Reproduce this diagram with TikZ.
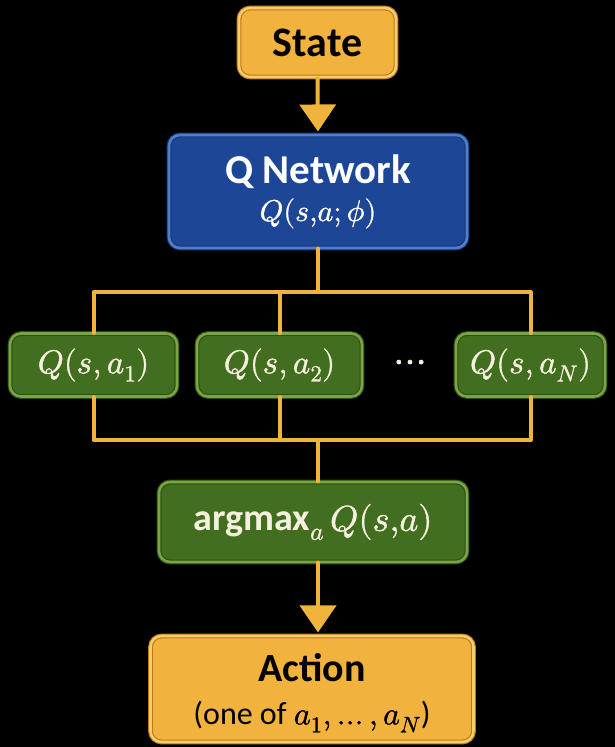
\documentclass[tikz,border=0pt]{standalone}
\usepackage{fontspec}
\usepackage{unicode-math}
\setmainfont{Carlito}
\setmathfont{Latin Modern Math}[FakeBold=1.2]
\usetikzlibrary{arrows.meta}
\definecolor{orfill}{HTML}{F2B33E}
\definecolor{ordark}{HTML}{B97A1A}
\definecolor{orlight}{HTML}{F8CC6A}
\definecolor{blfill}{HTML}{1D4796}
\definecolor{bldark}{HTML}{163874}
\definecolor{bllight}{HTML}{4F7FCC}
\definecolor{grfill}{HTML}{426E20}
\definecolor{grdark}{HTML}{2E4E15}
\definecolor{grlight}{HTML}{79A543}
\definecolor{wire}{HTML}{F0B43C}
\definecolor{cream}{HTML}{F6F1DE}
\tikzset{
  box/.style={rounded corners=11pt, line width=1.1pt, double distance=2.6pt, align=center, inner sep=0pt},
  orbox/.style={box, fill=orfill, draw=ordark, double=orlight, text=black},
  blbox/.style={box, fill=blfill, draw=bldark, double=bllight, text=white},
  grbox/.style={box, fill=grfill, draw=grdark, double=grlight, text=cream},
  wireline/.style={draw=wire, line width=4pt, line cap=round, line join=round},
  arrowline/.style={wireline, -{Triangle[width=36pt,length=27pt]}, shorten >=3pt},
  mid/.style={font=\fontsize{33}{40}\selectfont},
}
\begin{document}
\begin{tikzpicture}[x=1pt,y=-1pt]
\fill[black] (0,0) rectangle (615,747);
\useasboundingbox (0,0) rectangle (615,747);

\node[orbox, font=\fontsize{42}{48}\selectfont\bfseries, minimum width=157pt, minimum height=69pt] (state) at (317.5,42.5) {State};
\node[blbox, minimum width=298pt, minimum height=113pt] (qnet) at (318,191.5)
  {{\fontsize{41}{46}\selectfont\bfseries Q Network}\\[9pt]{\fontsize{30}{36}\selectfont $Q(s{,}a;\phi)$}};

\node[grbox, mid, minimum width=167pt, minimum height=63pt] (q1) at (93.5,365) {$Q(s,a_1)$};
\node[grbox, mid, minimum width=165pt, minimum height=63pt] (q2) at (279.5,365) {$Q(s,a_2)$};
\node[text=cream, font=\fontsize{40}{44}\selectfont] (dots) at (410,366) {$\cdots$};
\node[grbox, mid, minimum width=149pt, minimum height=63pt] (qN) at (530.5,365) {$Q(s,a_N)$};

\node[grbox, minimum width=308pt, minimum height=80pt] (amax) at (313,522)
  {{\fontsize{38}{44}\selectfont\bfseries argmax}{\fontsize{36}{42}\selectfont$_{a}$\,$Q(s{,}a)$}};

\node[orbox, minimum width=323pt, minimum height=106pt, text depth=0pt] (action) at (312,689)
  {\raisebox{-6pt}{\fontsize{40}{46}\selectfont\bfseries Action}\\[18pt]{\fontsize{32}{38}\selectfont (one of $a_1,\ldots,a_N$)}};

\coordinate (top) at (318,292);
\coordinate (bot) at (318,440);

\draw[arrowline] (state.south) -- (qnet.north);
\draw[wireline] (qnet.south) -- (top);
\draw[wireline] (q1.north) |- (top) -| (qN.north);
\draw[wireline] (q2.north) -- (q2.north |- top);
\draw[wireline] (q1.south) |- (bot) -| (qN.south);
\draw[wireline] (q2.south) -- (q2.south |- bot);
\draw[wireline] (bot) -- (amax.north -| bot);
\draw[arrowline] (amax.south -| bot) -- (action.north -| bot);
\end{tikzpicture}
\end{document}
